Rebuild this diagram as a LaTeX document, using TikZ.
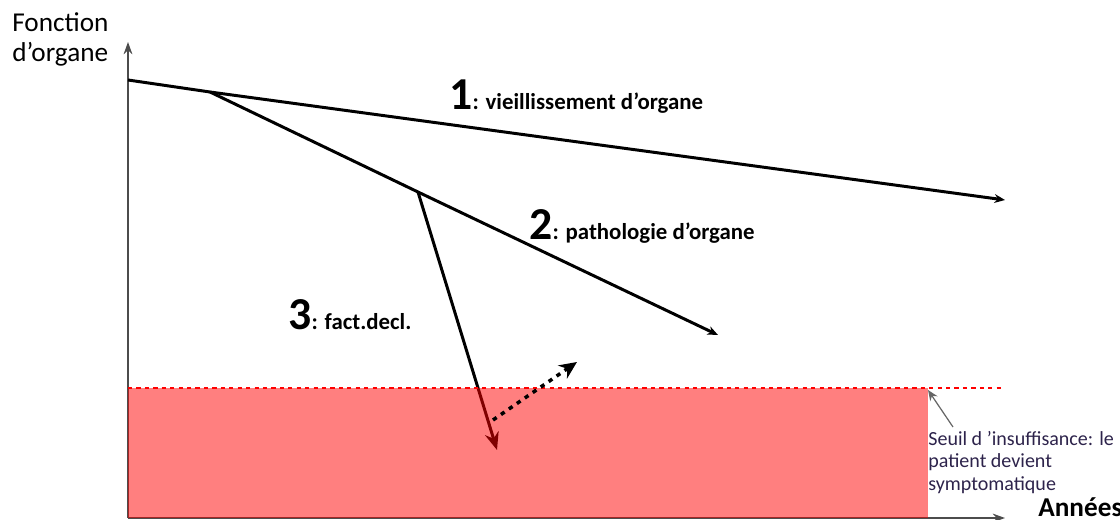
\documentclass[tikz,border=0pt]{standalone}
\usepackage{fontspec}
\setmainfont{Carlito}
\usetikzlibrary{arrows.meta}
\definecolor{seuilrouge}{RGB}{255,0,0}
\definecolor{notecol}{RGB}{45,35,75}

\begin{document}
\begin{tikzpicture}[x=0.02cm, y=-0.02cm,
    axe/.style={line width=0.9pt, draw=black!70, -{Stealth[length=7pt,width=5pt]}},
    courbe/.style={line width=1.7pt, -{Stealth[length=6pt,width=5pt]}},
    lbl/.style={inner sep=0pt, anchor=base west, font=\fontsize{13}{15}\selectfont\bfseries}]
    \useasboundingbox (0,0) rectangle (1120,520);

    % axes
    \coordinate (O) at (128,518);
    \coordinate (Y) at (128,42);
    \coordinate (X) at (1005,518);
    \draw[axe] (O) -- (Y);
    \draw[axe] (O) -- (X);
    \node (FO) at (12,62) [anchor=base west, inner sep=0pt, align=left,
        font=\fontsize{15.5}{17.5}\selectfont] {Fonction\\d’organe};
    \node (AN) at (1038,517) [anchor=base west, inner sep=0pt,
        font=\fontsize{15.5}{17}\selectfont\bfseries] {Années};

    %-----

    \coordinate (A) at (128,80);
    \coordinate (B) at (210,92);
    \coordinate (C) at (1005,200);
    \coordinate (D) at (418,192);
    \coordinate (E) at (718,335);
    \coordinate (F) at (497,450);

    \draw[line width=1.7pt] (A) -- (B);
    \draw[courbe] (B) -- (C);
    \draw[courbe] (B) -- (D) -- (E);
    \draw[line width=1.7pt, -{Stealth[length=10pt,width=8pt]}] (D) -- (F);

    \node (L1) at (449,110) [lbl] {{\fontsize{26}{26}\selectfont 1}: vieillissement d’organe};
    \node (L2) at (529,240) [lbl] {{\fontsize{26}{26}\selectfont 2}: pathologie d’organe};
    \node (L3) at (288,330) [lbl] {{\fontsize{26}{26}\selectfont 3}: fact.decl.};

    %-----

    \fill[seuilrouge, opacity=0.5] (128,388) rectangle (928,518);
    \coordinate (T1) at (128,388);
    \coordinate (T2) at (1005,388);
    \coordinate (K) at (928,390);
    \draw[seuilrouge, line width=1.6pt, dash pattern=on 2.4pt off 2.4pt] (T1) -- (T2);

    \coordinate (G) at (493,420);
    \coordinate (H) at (577,362);
    \draw[line width=2pt, dash pattern=on 2.5pt off 3pt,
        -{Stealth[length=10pt,width=9pt]}] (G) -- (H);

    \node (SE) at (928,490) [anchor=base west, inner sep=0pt, align=left, text=notecol,
        font=\fontsize{11.4}{12.8}\selectfont] {Seuil d ’insuffisance: le\\patient devient\\symptomatique};
    \coordinate (S) at (953,427);
    \draw[black!60, line width=0.7pt, -{Stealth[length=6pt,width=5pt]}] (S) -- (K);
\end{tikzpicture}
\end{document}
